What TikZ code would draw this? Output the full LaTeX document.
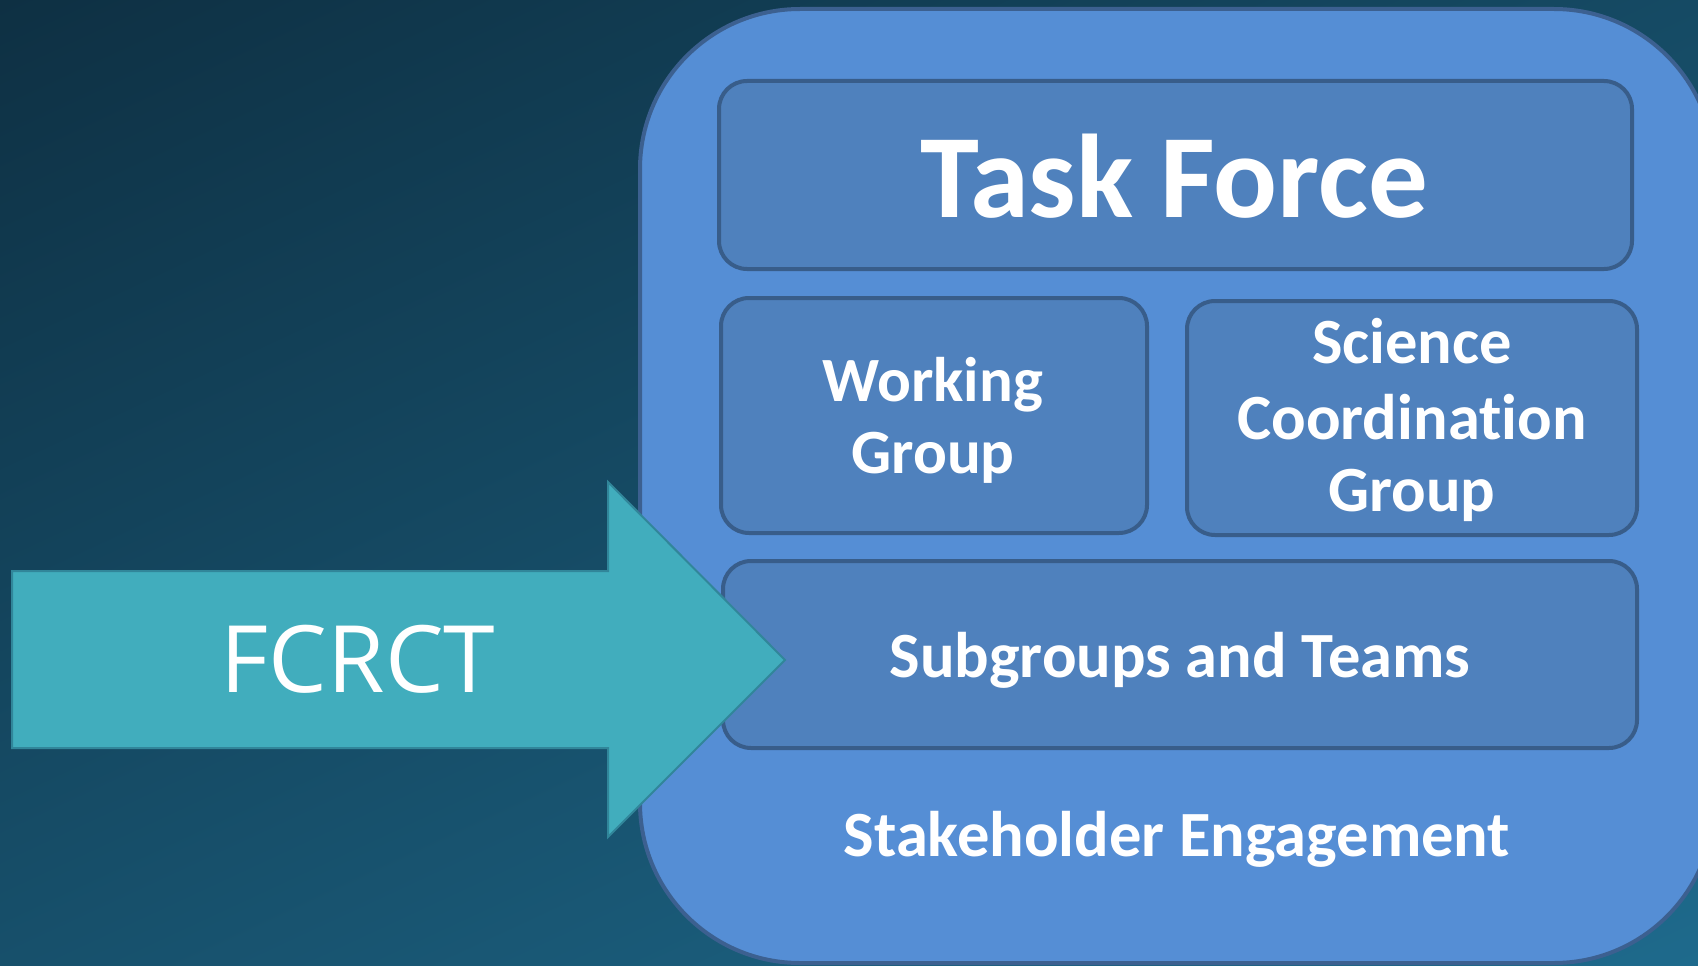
\documentclass[tikz,border=0pt]{standalone}
\usepackage{fontspec}
\usetikzlibrary{shadings}
\setmainfont{Carlito}[Ligatures=NoCommon]
\newfontfamily\arrowfont{Open Sans}
\definecolor{bgA}{HTML}{0E3043}
\definecolor{bgB}{HTML}{1E6A8C}
\definecolor{outerfill}{HTML}{558ED5}
\definecolor{outerline}{HTML}{3C6090}
\definecolor{boxfill}{HTML}{4F81BD}
\definecolor{boxline}{HTML}{385D8A}
\definecolor{arrowfill}{HTML}{41ADBD}
\definecolor{arrowline}{HTML}{31869A}
\tikzset{
  panel/.style={draw=boxline, fill=boxfill, line width=4pt, rounded corners=28pt, inner sep=0pt, outer sep=0pt},
  lbl/.style={text=white, font=\bfseries\fontsize{64.5}{75}\selectfont, anchor=base, inner sep=0pt},
}
\begin{document}
\begin{tikzpicture}[x=1pt,y=-1pt]
\useasboundingbox (0,0) rectangle (1698,966);
\clip (0,0) rectangle (1698,966);
\shade[upper left=bgA, lower right=bgB, upper right=bgA!55!bgB, lower left=bgA!45!bgB] (0,0) rectangle (1698,966);
% outer container
\draw[draw=outerline, fill=outerfill, line width=4pt, rounded corners=160pt] (640,9) rectangle (1714,963);
% inner panels
\node[panel, minimum width=913pt, minimum height=188pt] (tf) at (1175.5,175) {};
\node[panel, minimum width=426pt, minimum height=235pt] (wg) at (934,415.5) {};
\node[panel, minimum width=450pt, minimum height=234pt] (scg) at (1412,418) {};
\node[panel, minimum width=914pt, minimum height=187pt] (sub) at (1180,654.5) {};
% arrow
\draw[draw=arrowline, fill=arrowfill, line width=2pt, line join=miter]
  (12,571) -- (608,571) -- (608,482) -- (785,660) -- (608,837) -- (608,748) -- (12,748) -- cycle;
% texts
\node[lbl, font=\bfseries\fontsize{119}{130}\selectfont] (tft) at (1174,217) {Task Force};
\node[lbl, font=\bfseries\fontsize{63}{75}\selectfont] (wg1) at (933,401) {Working};
\node[lbl, font=\bfseries\fontsize{63}{75}\selectfont] (wg2) at (933,473) {Group};
\node[lbl] (sc1) at (1412,363) {Science};
\node[lbl] (sc2) at (1412,439) {Coordination};
\node[lbl] (sc3) at (1412,511) {Group};
\node[lbl] (subt) at (1180,677) {Subgroups and Teams};
\node[lbl] (stk) at (1177,856) {Stakeholder Engagement};
\node[text=white, font=\arrowfont\fontsize{93}{100}\selectfont, anchor=base, inner sep=0pt] (fc) at (358,692) {FCRCT};
\end{tikzpicture}
\end{document}
